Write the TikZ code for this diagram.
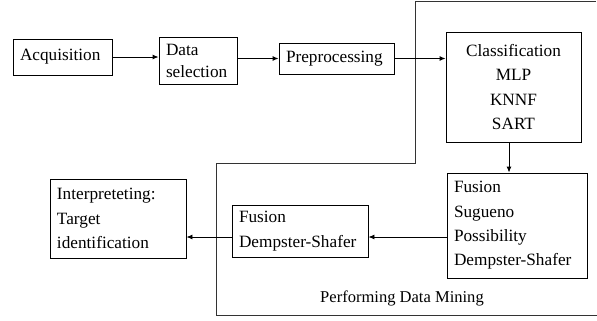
\documentclass[tikz,border=0pt]{standalone}
\usepackage{fontspec}
\setmainfont{Liberation Serif}
\usetikzlibrary{arrows.meta}
\tikzset{
  stagebox/.style={draw, line width=0.9bp, inner xsep=7bp, inner ysep=0bp,
    font=\fontsize{17.3}{24.5}\selectfont, anchor=center},
  flow/.style={line width=0.9bp, -{Latex[length=6bp,width=5bp]}},
  frameline/.style={line width=0.9bp, draw=black!80}
}
\begin{document}
\begin{tikzpicture}[x=1bp,y=-1bp]
\useasboundingbox (0,0) rectangle (597,320);

% processing stages
\node[stagebox, minimum width=99bp, minimum height=36bp, text width=85bp, align=left]
  (acq) at (62.5,57) {Acquisition};
\node[stagebox, minimum width=78bp, minimum height=47bp, text width=64bp, align=left,
  font=\fontsize{17.3}{22}\selectfont]
  (sel) at (198,60.5) {Data\\selection};
\node[stagebox, minimum width=115bp, minimum height=31bp, text width=101bp, align=left]
  (pre) at (336.5,58.5) {Preprocessing};
\node[stagebox, minimum width=135bp, minimum height=110bp, text width=121bp, align=center]
  (cls) at (513.5,87) {Classification\\MLP\\KNNF\\SART};
\node[stagebox, minimum width=140bp, minimum height=105bp, text width=126bp, align=left]
  (fus) at (517,225.5) {Fusion\\Sugueno\\Possibility\\Dempster-Shafer};
\node[stagebox, minimum width=136bp, minimum height=52bp, text width=122bp, align=left]
  (ds) at (300,231) {Fusion\\Dempster-Shafer};
\node[stagebox, minimum width=136bp, minimum height=79bp, text width=122bp, align=left]
  (int) at (118,218.5) {Interpreteting:\\Target\\identification};

% data-mining region outline
\coordinate (fA) at (596,1);
\coordinate (fB) at (415,1);
\coordinate (fC) at (415,163);
\coordinate (fD) at (216,163);
\coordinate (fE) at (216,315);
\coordinate (fF) at (597,315);
\draw[frameline] (fA) -- (fB) -- (fC) -- (fD) -- (fE) -- (fF);
\node[font=\fontsize{16.6}{20}\selectfont] (dm) at (402,298) {Performing Data Mining};

% connectors
\coordinate (down) at (509,0);
\coordinate (lvl) at (0,237);
\draw[flow] (acq.east) -- (acq.east -| sel.west);
\draw[flow] (pre.west -| sel.east) -- (pre.west);
\draw[flow] (pre.east) -- (pre.east -| cls.west);
\draw[flow] (cls.south -| down) -- (fus.north -| down);
\draw[flow] (fus.west |- lvl) -- (ds.east |- lvl);
\draw[flow] (ds.west |- lvl) -- (int.east |- lvl);
\end{tikzpicture}
\end{document}
